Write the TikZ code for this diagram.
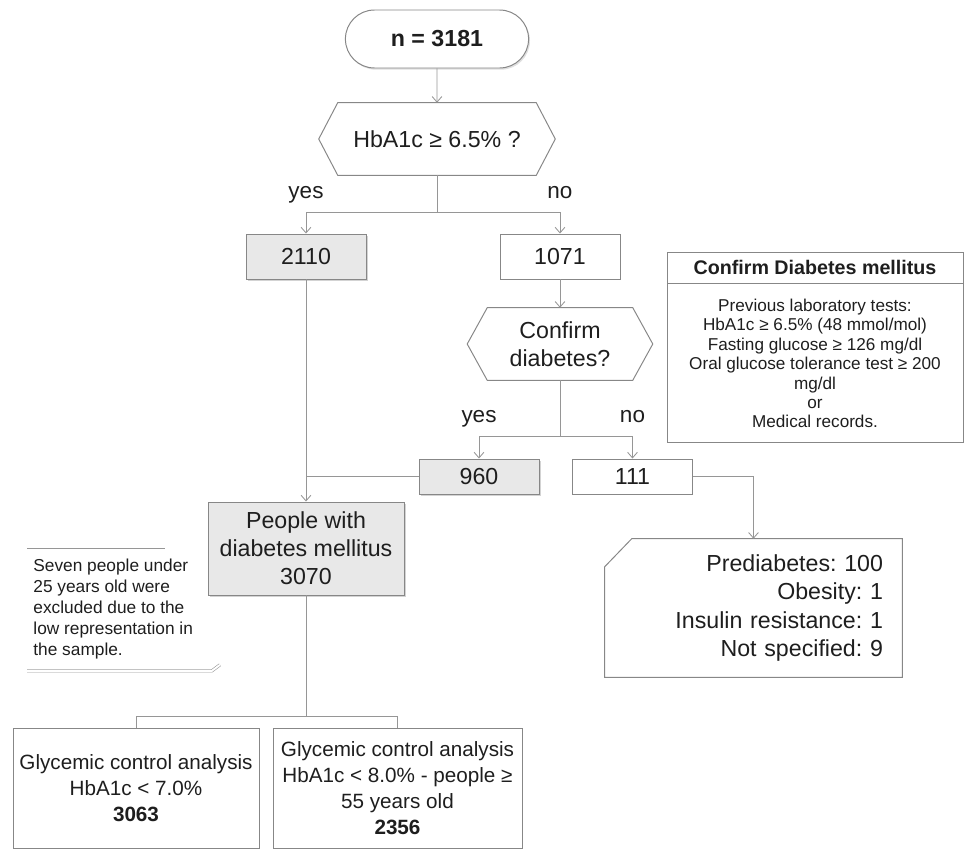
\documentclass[tikz,border=0pt]{standalone}
\usepackage{fontspec}
\setmainfont{Liberation Sans}
\frenchspacing
\usetikzlibrary{arrows.meta,positioning,shapes.misc,shadows}
\definecolor{fcgray}{RGB}{232,232,232}
\definecolor{fcline}{RGB}{150,150,150}
\definecolor{fcborder}{RGB}{135,135,135}
\definecolor{fctext}{RGB}{30,30,30}

\begin{document}
\begin{tikzpicture}[
  every node/.style={text=fctext},
  txt/.style={font=\fontsize{16.5}{20}\selectfont,align=center},
  plainbox/.style={txt,draw=fcborder,line width=0.7pt,fill=white,minimum width=3cm,minimum height=1.125cm,inner sep=1pt},
  greybox/.style={plainbox,fill=fcgray,drop shadow={shadow xshift=1.2pt,shadow yshift=-1.5pt,opacity=0.35}},
  term/.style={plainbox,rounded rectangle,font=\bfseries\fontsize{16.5}{20}\selectfont,drop shadow={shadow xshift=1pt,shadow yshift=-1.2pt,opacity=0.25}},
  hexnode/.style={txt,minimum height=1.8cm,inner sep=1pt},
  hexline/.style={draw=fcborder,line width=0.7pt},
  conn/.style={draw=fcline,line width=0.6pt,-{Straight Barb[length=4pt,width=7pt]}},
  link/.style={draw=fcline,line width=0.6pt},
  lbl/.style={font=\fontsize{16}{19}\selectfont,inner sep=0pt,text depth=0pt},
  glybox/.style={draw=fcborder,line width=0.7pt,font=\fontsize{14.7}{18.5}\selectfont,align=center,minimum height=3cm,inner sep=1pt},
  infobox/.style={draw=fcborder,line width=0.7pt,minimum width=7.4cm,inner sep=0pt,align=center},
]
\useasboundingbox (0,0) rectangle (24.175,-21.275);

% first test
\node[term,minimum width=4.65cm,minimum height=1.45cm] (start) at (10.925,-0.975) {n = 3181};
\node[hexnode,minimum width=4.95cm] (q1) at (10.925,-3.475) {HbA1c ≥ 6.5\% ?};
\draw[hexline] (q1.north west) -- (q1.north east) -- ([xshift=0.475cm]q1.east) -- (q1.south east) -- (q1.south west) -- ([xshift=-0.475cm]q1.west) -- cycle;
\node[greybox] (n2110) at (7.65,-6.4125) {2110};
\node[plainbox] (n1071) at (14.0,-6.4125) {1071};
\coordinate (split1) at (10.925,-5.3);
\draw[conn] (start) -- (q1);
\draw[link] (q1) -- (split1);
\draw[conn] (split1) -| node[pos=0.5,above=0.33cm,lbl]{yes} (n2110);
\draw[conn] (split1) -| node[pos=0.5,above=0.33cm,lbl]{no} (n1071);

% second test
\node[hexnode,minimum width=3.625cm] (q2) at (14.0,-8.6) {Confirm\\diabetes?};
\draw[hexline] (q2.north west) -- (q2.north east) -- ([xshift=0.5cm]q2.east) -- (q2.south east) -- (q2.south west) -- ([xshift=-0.5cm]q2.west) -- cycle;
\draw[conn] (n1071) -- (q2);
\node[greybox,minimum height=0.875cm] (n960) at (11.975,-11.9125) {960};
\node[plainbox,minimum height=0.875cm] (n111) at (15.8125,-11.9125) {111};
\coordinate (split2) at (14.0,-10.9);
\draw[link] (q2) -- (split2);
\draw[conn] (split2) -| node[pos=0.5,above=0.33cm,lbl]{yes} (n960);
\draw[conn] (split2) -| node[pos=0.5,above=0.33cm,lbl]{no} (n111);

% criteria box
\node[infobox,minimum height=0.775cm,font=\bfseries\fontsize{14}{16}\selectfont] (chead) at (20.375,-6.6875) {Confirm Diabetes mellitus};
\node[infobox,minimum height=3.975cm,font=\fontsize{12.2}{13.8}\selectfont,below=0pt of chead] (cbody) {Previous laboratory tests:\\HbA1c ≥ 6.5\% (48 mmol/mol)\\Fasting glucose ≥ 126 mg/dl\\Oral glucose tolerance test ≥ 200\\mg/dl\\or\\Medical records.};

% people with diabetes
\node[greybox,minimum width=4.9cm,minimum height=2.325cm] (people) at (7.65,-13.7125) {People with\\diabetes mellitus\\3070};
\draw[conn] (n2110) -- (people);
\draw[link] (n960) -- (n960 -| people);

% excluded note
\node[font=\fontsize{12.3}{15}\selectfont,align=left,inner sep=0pt] (note) at (2.83,-15.23) {Seven people under\\25 years old were\\excluded due to the\\low representation in\\the sample.};
\draw[fcline,line width=0.6pt] (0.675,-13.7) -- (4.125,-13.7);
\draw[fcline,line width=0.4pt,double=white,double distance=1.4pt] (0.675,-16.77) -- (5.3,-16.77) -- (5.5,-16.62);

% other diagnoses
\node[txt,align=right,text width=6.475cm,inner xsep=0.475cm,inner ysep=0pt,minimum height=3.45cm] (res) at (18.8375,-15.2) {Prediabetes: 100\\Obesity: 1\\Insulin resistance: 1\\Not specified: 9};
\draw[hexline] ([xshift=0.675cm]res.north west) -- (res.north east) -- (res.south east) -- (res.south west) -- ([yshift=-0.7cm]res.north west) -- cycle;
\draw[conn] (n111) -| (res);

% glycemic control
\coordinate (split3) at (7.65,-17.9);
\node[glybox,minimum width=6.15cm] (gly1) at (3.4,-19.7) {Glycemic control analysis\\HbA1c < 7.0\%\\\textbf{3063}};
\node[glybox,minimum width=6.225cm] (gly2) at (9.9375,-19.7) {Glycemic control analysis\\HbA1c < 8.0\% - people ≥\\55 years old\\\textbf{2356}};
\draw[link] (people) -- (split3);
\draw[link] (split3) -| (gly1);
\draw[link] (split3) -| (gly2);
\end{tikzpicture}
\end{document}
